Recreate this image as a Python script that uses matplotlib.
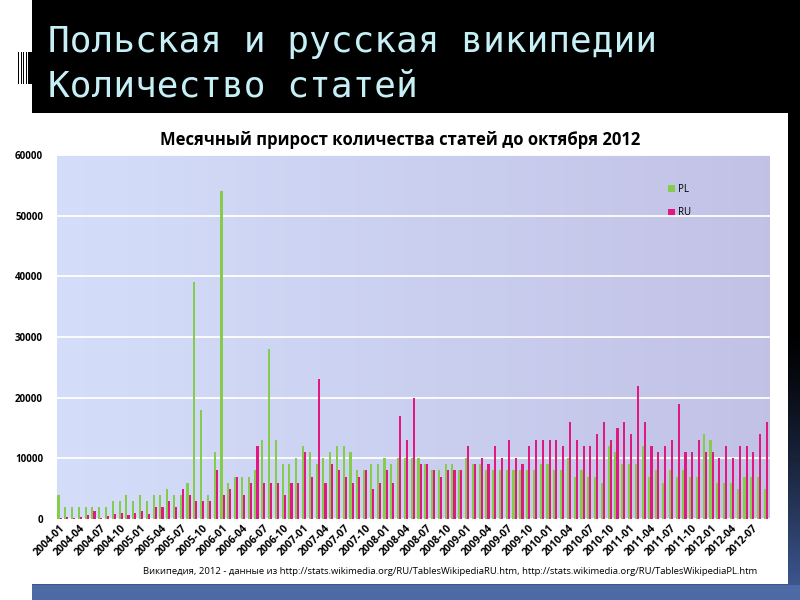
import numpy as np
import matplotlib
matplotlib.use("Agg")
import matplotlib.pyplot as plt
from matplotlib.patches import Rectangle

# ---------------------------------------------------
# data: monthly article growth, 2004-01 .. 2012-09
# ---------------------------------------------------
months = [f"{y}-{m:02d}" for y in range(2004, 2013) for m in range(1, 13)][:105]

pl = [4000, 2000, 2000, 2000, 2000, 2000, 2000, 2000, 3000, 3000, 4000, 3000,
      4000, 3000, 4000, 4000, 5000, 4000, 4000, 6000, 39000, 18000, 4000, 11000,
      54000, 6000, 7000, 7000, 7000, 8000, 13000, 28000, 13000, 9000, 9000, 10000,
      12000, 11000, 9000, 10000, 11000, 12000, 12000, 11000, 8000, 8000, 9000, 9000,
      10000, 9000, 10000, 10000, 10000, 10000, 9000, 8000, 8000, 9000, 9000, 8000,
      10000, 9000, 9000, 8000, 8000, 8000, 8000, 8000, 8000, 8000, 8000, 9000,
      9000, 8000, 8000, 10000, 7000, 8000, 7000, 7000, 6000, 12000, 11000, 9000,
      9000, 9000, 12000, 7000, 8000, 6000, 8000, 7000, 8000, 7000, 7000, 14000,
      13000, 6000, 6000, 6000, 5000, 7000, 7000, 7000, 5000]

ru = [200, 300, 200, 300, 700, 1400, 200, 500, 800, 1000, 600, 1000,
      1400, 800, 2000, 2000, 3000, 2000, 5000, 4000, 3000, 3000, 3000, 8000,
      4000, 5000, 7000, 4000, 6000, 12000, 6000, 6000, 6000, 4000, 6000, 6000,
      11000, 7000, 23000, 6000, 9000, 8000, 7000, 6000, 7000, 8000, 5000, 6000,
      8000, 6000, 17000, 13000, 20000, 9000, 9000, 8000, 7000, 8000, 8000, 8000,
      12000, 9000, 10000, 9000, 12000, 10000, 13000, 10000, 9000, 12000, 13000, 13000,
      13000, 13000, 12000, 16000, 13000, 12000, 12000, 14000, 16000, 13000, 15000, 16000,
      14000, 22000, 16000, 12000, 11000, 12000, 13000, 19000, 11000, 11000, 13000, 11000,
      11000, 10000, 12000, 10000, 12000, 12000, 11000, 14000, 16000]

y_ticks = [0, 10000, 20000, 30000, 40000, 50000, 60000]

slide_title = "Польская и русская википедии\nКоличество статей"
chart_title = "Месячный прирост количества статей до октября 2012"
source_note = ("Википедия, 2012 - данные из http://stats.wikimedia.org/RU/TablesWikipediaRU.htm, "
               "http://stats.wikimedia.org/RU/TablesWikipediaPL.htm")

GREEN = "#86cc4c"
PINK = "#e0187f"
W, H = 800, 600

plt.rcParams['font.family'] = ['Open Sans', 'DejaVu Sans']

fig = plt.figure(figsize=(8, 6), dpi=100, facecolor="black")


def px_rect(x0, y0, x1, y1, color, z=0):
    # rectangle in pixel coords, y measured from the top
    fig.add_artist(Rectangle((x0 / W, 1 - y1 / H), (x1 - x0) / W, (y1 - y0) / H,
                             transform=fig.transFigure, color=color, lw=0, zorder=z))


# slide background: black fading to blue at the bottom
bg = fig.add_axes([0, 0, 1, 1], zorder=-10)
t = np.linspace(0, 1, 200)
t = np.clip((t - 0.55) / 0.45, 0, 1) ** 1.3
grad = np.zeros((200, 1, 3))
grad[:, 0, 0] = 0.25 * t
grad[:, 0, 1] = 0.36 * t
grad[:, 0, 2] = 0.60 * t
bg.imshow(grad, aspect='auto', extent=[0, 1, 0, 1])
bg.axis('off')

px_rect(0, 0, 32, 600, "white", z=1)
px_rect(0, 113, 788, 584, "white", z=1)
px_rect(32, 585, 800, 600, "#4d6aa4", z=1)
# striped mark left of the title
for sx in [18, 20.5, 23, 25.5]:
    px_rect(sx, 52, sx + 1.4, 84, "black", z=2)
px_rect(28, 52, 32, 84, "black", z=2)

fig.text(48 / W, 1 - 64 / H, slide_title, color="#c6eff6", fontsize=26,
         family=["DejaVu Sans Mono"], va='center', ha='left', linespacing=1.4, zorder=3)

# ---------------------------------------------------
# chart
# ---------------------------------------------------
ax = fig.add_axes([57 / W, 1 - 519 / H, 713 / W, 364 / H], zorder=5)

x = np.arange(len(months))
bw = 0.31
ax.bar(x - bw / 2, pl, width=bw, color=GREEN, label="PL", zorder=2)
ax.bar(x + bw / 2, ru, width=bw, color=PINK, label="RU", zorder=2)

# plot area gradient
g = np.zeros((1, 100, 3))
left_c = np.array([0.83, 0.87, 0.98])
right_c = np.array([0.76, 0.76, 0.90])
for i in range(100):
    g[0, i] = left_c + (right_c - left_c) * i / 99
ax.imshow(g, aspect='auto', extent=[0, 1, 0, 1], transform=ax.transAxes, zorder=0)

ax.set_xlim(-0.37, 104.6)
ax.set_ylim(0, 60000)
ax.set_yticks(y_ticks)
ax.set_yticklabels([str(v) for v in y_ticks])
ax.yaxis.grid(True, color="white", lw=1.3, zorder=1)
ax.set_axisbelow(True)

ax.set_xticks(x[::3])
ax.set_xticklabels(months[::3], rotation=45, ha='right', rotation_mode='anchor',
                   fontsize=7.5, fontweight='bold')
ax.tick_params(axis='y', length=0, pad=10, labelsize=7)
ax.tick_params(axis='x', length=0, pad=3)
for lab in ax.get_yticklabels():
    lab.set_fontweight('bold')
for s in ax.spines.values():
    s.set_visible(False)

ax.legend(loc='upper left', bbox_to_anchor=(0.845, 0.945), frameon=False,
          fontsize=7, handlelength=0.7, handleheight=0.7, handletextpad=0.3,
          labelspacing=1.3)

fig.text(400 / W, 1 - 140 / H, chart_title, ha='center', va='center',
         fontsize=12, fontweight='bold', zorder=6)
fig.text(143 / W, 1 - 571 / H, source_note, ha='left', va='center', fontsize=6.8, zorder=6)

fig.savefig("out.png", dpi=100, facecolor=fig.get_facecolor())
